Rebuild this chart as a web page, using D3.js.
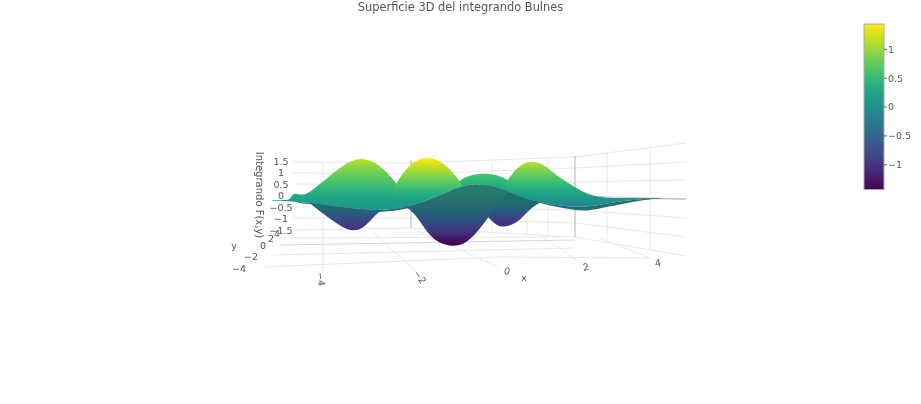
<!DOCTYPE html>
<html><head><meta charset="utf-8">
<script src="https://cdn.jsdelivr.net/npm/d3@7"></script>
<style>html,body{margin:0;background:#fff}svg{display:block;filter:blur(.45px)}text{font-family:"DejaVu Sans",sans-serif;fill:#555}</style>
</head><body><svg id="c" width="921" height="404"></svg>
<script>
// tick labels
const xTicks=[-4,-2,0,2,4], yTicks=[-4,-2,0,2,4], zTicks=[1.5,1,0.5,0,-0.5,-1,-1.5], cbTicks=[1,0.5,0,-0.5,-1];
// surface silhouettes as seen by the camera: x value, apparent height
const lobeAx=[-4.99,-4.73,-4.63,-4.57,-4.48,-4.38,-4.26,-3.98,-3.66,-3.41,-3.17,-2.9,-2.67,-2.45,-2.24];
const lobeAz=[-.2,-.2,-.2,.1,.07,.02,.08,.57,1.14,1.5,1.64,1.45,1.02,.47,-.2];
const lobeBx=[-2.62,-2.48,-2.32,-2.12,-1.82,-1.52,-1.27,-1.1,-.92];
const lobeBz=[-.1,.54,1.06,1.5,1.72,1.5,1.08,.66,.1];
const lobeCx=[-1.3,-1.0,-.7,-.35,-.05,.2,.48];
const lobeCz=[.3,.8,.95,.95,.78,.46,0];
const lobeDx=[-.2,0,.25,.63,1.01,1.34,1.77,2.19,2.75,3.5,4.14];
const lobeDz=[.1,.62,1.24,1.58,1.26,.76,.3,-.04,-.12,-.11,-.11];
const lipX=[-4.99,-4.46,-4.12,-3.68,-3.21,-2.76,-2.26,-1.93,-1.54,-1.15,-.78,-.39,0,.38,.78,1.34,2.03,2.58,3.5,4.14];
const lipZ=[-.22,-.28,-.33,-.5,-.59,-.66,-.5,-.28,.02,.33,.52,.45,.2,-.07,-.28,-.46,-.52,-.33,-.15,-.11];
const rimLX=[-4.46,-4.12,-3.68,-3.21,-2.76,-2.26,-1.93];
const rimLZ=[-.33,-.37,-.54,-.67,-.75,-.59,-.37];
const rimRX=[.38,.78,1.52,2.03,2.58,3.5,4.14];
const rimRZ=[-.07,-.33,-.59,-.7,-.5,-.2,-.11];
const troughAx=[-4.25,-4.0,-3.72,-3.42,-3.17,-2.95,-2.72,-2.5];
const troughAz=[-.3,-.72,-1.18,-1.56,-1.5,-.95,-.5,-.5];
const troughBx=[-2.42,-2.2,-1.97,-1.68,-1.3,-.98,-.66,-.38,-.13,.07];
const troughBz=[-.4,-.55,-1.2,-2.0,-2.22,-2.15,-1.55,-.82,-.25,.25];
const troughCx=[-.62,-.4,-.2,.05,.35,.6,.85];
const troughCz=[-.6,-1.0,-1.38,-1.35,-1.05,-.55,-.3];
// shaded underside colours, top to bottom
const shadeDeep=['#277c6c','#25756e','#246472','#2b4f80','#41307e','#440154'];
const shadeSide=['#1f6e6f','#2a5b80','#3b4583','#46337f'];
const shadeRim=['#226d72','#226f77'];

const svg=d3.select('#c'), defs=svg.append('defs');
const sx=d3.scaleLinear().domain([-5,-4,-2,0,2,4,5]).range([271.5,321,420,507,586,658,694]);
const sz=d3.scaleLinear().domain([-1.5,1.5]).range([230,161]);
const zip=(a,b)=>a.map((v,i)=>[v,b[i]]);
const line=d3.line().x(d=>sx(d[0])).y(d=>sz(d[1])).curve(d3.curveBasis);

// ---- grid
const gridColor='#e9e9e9', strong='#b5b5b5';
const grid=svg.append('g').attr('fill','none').attr('stroke-width',1);
const seg=(pts,c)=>grid.append('path').attr('d',d3.line()(pts)).attr('stroke',c||gridColor);
const wallL=[[162,163],[173,174],[184,185],[196,196],[207,207],[218,218],[230,228]];
const wallB=[[163,157],[174,168],[185,182],[196,196],[207,210],[218,223],[228,237]];
const wallR=[[157,143],[168,162],[182,180],[196,199],[210,218],[223,237],[237,256]];
wallL.forEach(d=>seg([[293,d[0]],[411,d[1]]]));
wallB.forEach(d=>seg([[411,d[0]],[575,d[1]]]));
wallR.forEach((d,i)=>seg([[575,d[0]],[686,d[1]]],i==3?'#c8c8c8':gridColor));
[[323,162,273],[492,163,232],[527,161,234],[548,160,235],[607,152,242],[650,147,250]].forEach(d=>seg([[d[0],d[1]],[d[0],d[2]]]));
seg([[368,228],[417,272]]);seg([[411,228],[498,267]]);seg([[535,232],[581,263]]);seg([[600,238],[650,258]]);
seg([[263,267],[500,257],[650,258]]);seg([[273,255],[575,248]]);seg([[280,245],[575,240]],'#d6d6d6');seg([[277,238],[560,237]]);
seg([[411,160],[411,228]],strong);seg([[575,156],[575,237]],strong);
seg([[575,198],[686,199]],'#bdbdbd');

// ---- surface
const v=d3.interpolateViridis;
function ramp(id,zTop,zBot,colors){
  const g=defs.append('linearGradient').attr('id',id).attr('gradientUnits','userSpaceOnUse')
   .attr('x1',0).attr('x2',0).attr('y1',sz(zTop)).attr('y2',sz(zBot));
  colors.forEach((c,i)=>g.append('stop').attr('offset',i/(colors.length-1)).attr('stop-color',c));
  return `url(#${id})`;
}
const vRamp=(tTop,tBot)=>d3.range(0,1.001,.1).map(f=>v(tTop+(tBot-tTop)*f));
const lip=zip(lipX,lipZ);
const yHigh=sz(3), yLow=sz(-3);
const lipD=line(lip);
function lobePath(pts,closeZ){
  const a=pts[0],b=pts[pts.length-1];
  return line(pts)+`L${sx(b[0])},${sz(closeZ)}L${sx(a[0])},${sz(closeZ)}Z`;
}
// clip regions either side of the lip, built from the lip values
defs.append('clipPath').attr('id','upper').append('path')
  .attr('d',lipD+`L${sx(4.14)},${yHigh}L${sx(-4.99)},${yHigh}Z`);
defs.append('clipPath').attr('id','lower').append('path')
  .attr('d',lipD+`L${sx(4.14)},${yLow}L${sx(-4.99)},${yLow}Z`);
const up=svg.append('g').attr('clip-path','url(#upper)');
const lo=svg.append('g').attr('clip-path','url(#lower)');
const fillUp=(x,z,id,zTop,tTop,zBot,tBot)=>up.append('path').attr('d',lobePath(zip(x,z),-1.2)).attr('fill',ramp(id,zTop,zBot,vRamp(tTop,tBot)));
fillUp(lobeAx,lobeAz,'gA',1.54,.88,-.5,.52);
fillUp(lobeCx,lobeCz,'gC',.89,.71,.3,.58);
fillUp(lobeDx,lobeDz,'gD',1.41,.88,-.4,.46);
fillUp(lobeBx,lobeBz,'gB',1.63,1,-.3,.54);
const fillLo=(x,z,id,zTop,zBot,cs)=>lo.append('path').attr('d',lobePath(zip(x,z),1.2)).attr('fill',ramp(id,zTop,zBot,cs));
fillLo(rimLX,rimLZ,'gR',-.3,-.8,shadeRim);
fillLo(rimRX,rimRZ,'gS',-.1,-.7,shadeRim);
fillLo(troughAx,troughAz,'gT',-.45,-1.41,shadeSide);
fillLo(troughCx,troughCz,'gV',-.35,-1.22,shadeSide);
fillLo(troughBx,troughBz,'gU',.4,-2.11,shadeDeep);

// ---- text
svg.append('text').attr('x',460.5).attr('y',10.5).attr('text-anchor','middle').attr('font-size',11.4).text('Superficie 3D del integrando Bulnes');
const fmt=d=>String(d).replace('-','\u2212');
const tick=(x,y,s,rot)=>svg.append('text').attr('transform',`translate(${x},${y})rotate(${rot||0})`).attr('text-anchor','middle').attr('dy','.35em').attr('font-size',9.5).text(s);
zTicks.forEach(d=>tick(281,sz(d)+.5,fmt(d)));
const yPos=[[239,269],[251,257],[263,246],[271,239],[277,234]];
yTicks.forEach((d,i)=>tick(yPos[i][0],yPos[i][1],fmt(d)));
const xPos=[[321,279,85],[420,277,55],[507,271,15],[586,267,-10],[658,263,-10]];
xTicks.forEach((d,i)=>tick(xPos[i][0],xPos[i][1],fmt(d),xPos[i][2]));
tick(524,278,'x');tick(234,246,'y');
svg.append('text').attr('transform','translate(259,195)rotate(90)').attr('text-anchor','middle').attr('dy','.35em').attr('font-size',10).text('Integrando F(x,y)');

// ---- colour bar
const cb=d3.scaleLinear().domain([-1.43,1.44]).range([189.5,24]);
const g=defs.append('linearGradient').attr('id','cb').attr('x1',0).attr('x2',0).attr('y1',1).attr('y2',0);
d3.range(0,1.001,.05).forEach(t=>g.append('stop').attr('offset',t).attr('stop-color',v(t)));
svg.append('rect').attr('x',864).attr('y',24).attr('width',20).attr('height',165.5).attr('fill','url(#cb)').attr('stroke','#aaa').attr('stroke-width',1);
cbTicks.forEach(d=>{
  svg.append('path').attr('d',`M884,${cb(d)}h3`).attr('stroke','#666');
  svg.append('text').attr('x',888).attr('y',cb(d)).attr('dy','.35em').attr('font-size',9.5).text(fmt(d));
});
</script></body></html>
